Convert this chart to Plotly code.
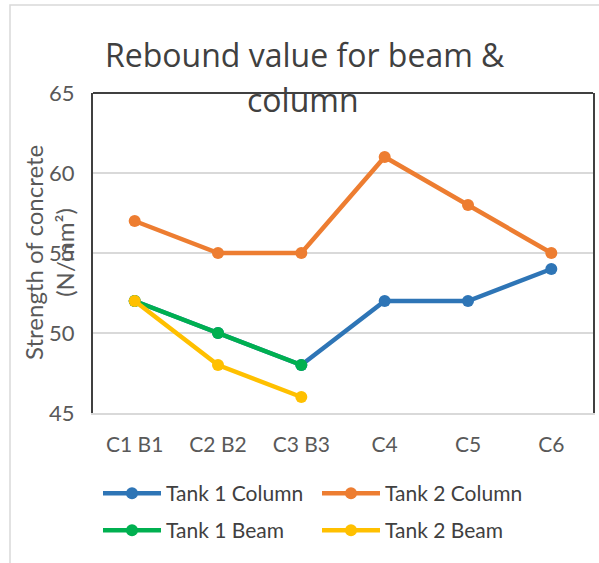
import plotly.graph_objects as go

categories = ["C1 B1", "C2 B2", "C3 B3", "C4", "C5", "C6"]
tank1_column = [52, 50, 48, 52, 52, 54]
tank2_column = [57, 55, 55, 61, 58, 55]
tank1_beam = [52, 50, 48, None, None, None]
tank2_beam = [52, 48, 46, None, None, None]
y_ticks = [45, 50, 55, 60, 65]

series = [
    ("Tank 1 Column", tank1_column, "#2E75B6", "legend"),
    ("Tank 2 Column", tank2_column, "#ED7D31", "legend"),
    ("Tank 1 Beam", tank1_beam, "#00B050", "legend2"),
    ("Tank 2 Beam", tank2_beam, "#FFC000", "legend2"),
]

FONT = "Lato"
W, H = 599, 563
L, R, T, B = 93, 6, 93, 150
PW, PH = W - L - R, H - T - B


def px_x(x):
    return (x - L) / PW


def px_y(y):
    return (H - B - y) / PH


fig = go.Figure()
for name, vals, col, lg in series:
    fig.add_trace(go.Scatter(
        x=categories, y=vals, name=name, mode="lines+markers",
        line=dict(color=col, width=4.5),
        marker=dict(color=col, size=12),
        connectgaps=False, legend=lg,
    ))

legend_common = dict(
    orientation="h", xanchor="left", yanchor="top",
    entrywidth=146, entrywidthmode="pixels", itemwidth=58,
    font=dict(family=FONT, size=21, color="#404040"),
    bgcolor="rgba(0,0,0,0)",
)

fig.update_layout(
    width=W, height=H,
    margin=dict(l=L, r=R, t=T, b=B, autoexpand=False),
    paper_bgcolor="white", plot_bgcolor="white",
    font=dict(family=FONT, color="#595959", size=21),
    showlegend=True,
    legend=dict(x=px_x(98), y=px_y(473), **legend_common),
    legend2=dict(x=px_x(98), y=px_y(510), **legend_common),
    xaxis=dict(
        type="category", categoryorder="array", categoryarray=categories,
        showgrid=False, showline=True, linecolor="#d9d9d9", linewidth=1.5,
        ticks="", ticklabelstandoff=12,
        tickfont=dict(family=FONT, size=21, color="#595959"),
        range=[-0.5, 5.5], fixedrange=True,
    ),
    yaxis=dict(
        range=[45, 65], tickvals=y_ticks, ticktext=[str(v) for v in y_ticks],
        showgrid=True, gridcolor="#d9d9d9", gridwidth=1.5,
        showline=True, mirror=True, linecolor="#404040", linewidth=2,
        ticks="", ticklabelstandoff=12, zeroline=False,
        tickfont=dict(family=FONT, size=22, color="#595959"),
    ),
    shapes=[
        dict(type="line", xref="paper", yref="paper", x0=0, x1=1, y0=1, y1=1,
             line=dict(color="#404040", width=2)),
        dict(type="rect", xref="paper", yref="paper",
             x0=px_x(10), x1=px_x(640), y0=px_y(5), y1=px_y(620),
             line=dict(color="#d9d9d9", width=1.5), fillcolor="rgba(0,0,0,0)",
             layer="below"),
    ],
    annotations=[
        dict(text="Rebound value for beam &", xref="paper", yref="paper",
             x=px_x(305), y=px_y(54), xanchor="center", yanchor="middle",
             showarrow=False, font=dict(family="Open Sans", size=32, color="#404040")),
        dict(text="column", xref="paper", yref="paper",
             x=px_x(303), y=px_y(99), xanchor="center", yanchor="middle",
             showarrow=False, font=dict(family="Open Sans", size=32, color="#404040")),
        dict(text="Strength of concrete<br>(N/mm²)", xref="paper", yref="paper",
             x=px_x(49), y=0.5, xanchor="center", yanchor="middle",
             textangle=-90, showarrow=False,
             font=dict(family=FONT, size=24, color="#595959")),
    ],
)

fig.write_html("out.html")
